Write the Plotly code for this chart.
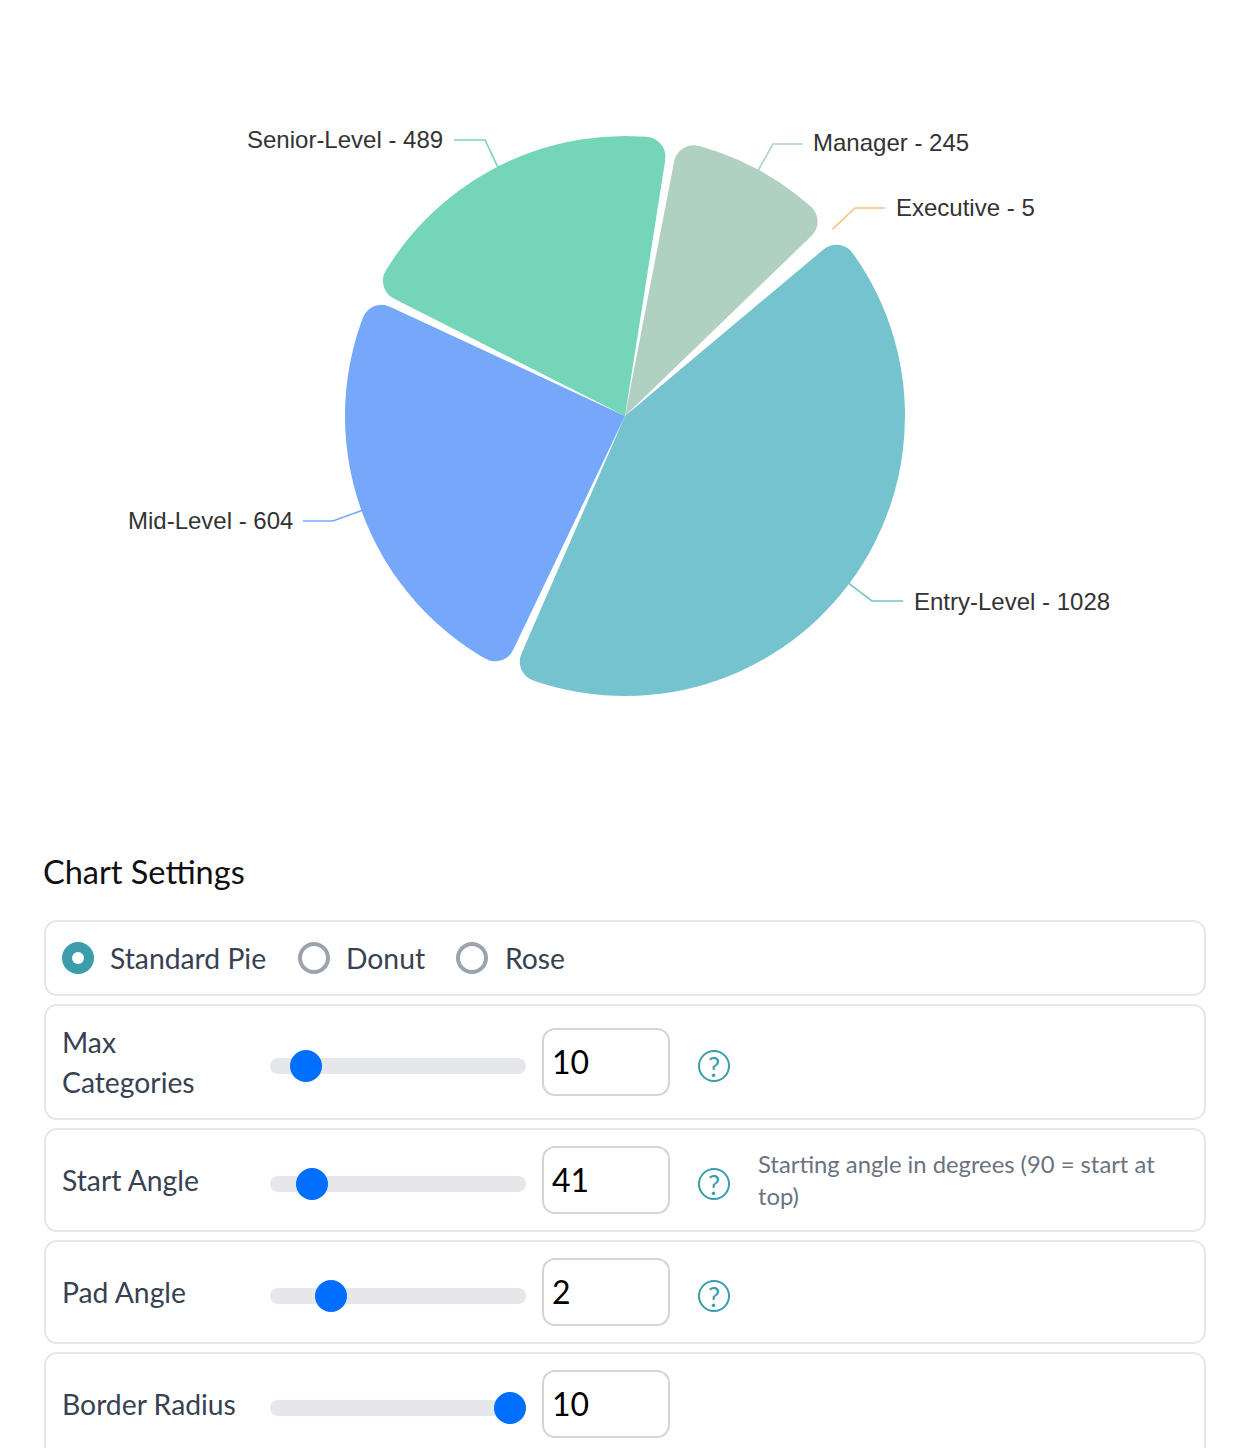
import math
import plotly.graph_objects as go

# ---- data ----
categories = ["Entry-Level", "Mid-Level", "Senior-Level", "Manager", "Executive"]
counts = [1028, 604, 489, 245, 5]
slice_colors = ["#76C3D0", "#75A8F9", "#75D5B9", "#B0D1C1", "rgba(0,0,0,0)"]
line_colors = ["#76C3D0", "#75A8F9", "#75D5B9", "#B0D1C1", "#F8C57E"]
start_angle = 41
pad_angle = 2
border_radius = 10

chart_types = ["Standard Pie", "Donut", "Rose"]
slider_labels = ["Start Angle", "Pad Angle", "Border Radius"]
slider_inputs = ["10", "41", "2", "10"]
help_text = ["Starting angle in degrees (90 = start at", "top)"]

# ---- layout constants (pixels) ----
W, H = 1244, 1448
CX, CY, R = 625, 416, 280
FILLET = border_radius * 2
LBL = "Liberation Sans"
UI = "Lato"
INK = "#374151"
UI_SIZE = 28.3


def px(x):
    return x / W


def py(y):
    return 1 - y / H


def P(x, y):
    return f"{px(x):.5f},{py(y):.5f}"


def rrect(x0, y0, x1, y1, r):
    k = r * 0.45
    return (
        f"M{px(x0 + r):.5f},{py(y0):.5f} L{px(x1 - r):.5f},{py(y0):.5f} "
        f"C{px(x1 - k):.5f},{py(y0):.5f} {px(x1):.5f},{py(y0 + k):.5f} {px(x1):.5f},{py(y0 + r):.5f} "
        f"L{px(x1):.5f},{py(y1 - r):.5f} "
        f"C{px(x1):.5f},{py(y1 - k):.5f} {px(x1 - k):.5f},{py(y1):.5f} {px(x1 - r):.5f},{py(y1):.5f} "
        f"L{px(x0 + r):.5f},{py(y1):.5f} "
        f"C{px(x0 + k):.5f},{py(y1):.5f} {px(x0):.5f},{py(y1 - k):.5f} {px(x0):.5f},{py(y1 - r):.5f} "
        f"L{px(x0):.5f},{py(y0 + r):.5f} "
        f"C{px(x0):.5f},{py(y0 + k):.5f} {px(x0 + k):.5f},{py(y0):.5f} {px(x0 + r):.5f},{py(y0):.5f} Z"
    )


shapes, annos = [], []


def text(x, y, s, size, color=INK, font=UI, anchor="left"):
    annos.append(dict(
        x=px(x), y=py(y), xref="paper", yref="paper", text=s, showarrow=False,
        xanchor=anchor, yanchor="middle", align=anchor,
        font=dict(family=font, size=size, color=color),
    ))


def box(x0, y0, x1, y1, r, line, fill="white", lw=2):
    shapes.append(dict(type="path", xref="paper", yref="paper", path=rrect(x0, y0, x1, y1, r),
                       fillcolor=fill, line=dict(color=line, width=lw), layer="below"))


def circle(x, y, r, fill, line=None, lw=0):
    shapes.append(dict(type="circle", xref="paper", yref="paper",
                       x0=px(x - r), x1=px(x + r), y0=py(y + r), y1=py(y - r),
                       fillcolor=fill, line=dict(color=line or fill, width=lw), layer="above"))


def polar(r, deg):
    a = math.radians(deg)
    return CX + r * math.sin(a), CY - r * math.cos(a)


# ---- pie angles: a slice too small for the pad gets the pad alone; the rest share what is left ----
min_slot = pad_angle
raw_unit = 360 / sum(counts)
small = [v * raw_unit < min_slot for v in counts]
unit = (360 - min_slot * sum(small)) / sum(v for v, s in zip(counts, small) if not s)
pad_value = pad_angle / unit

# slot = [pad/2, slice, pad/2]; each half pad is a transparent slice of the pie trace
values, labels, colors = [], [], []
for c, v, col, s in zip(categories, counts, slice_colors, small):
    values += [pad_value / 2, 0 if s else v - pad_value, pad_value / 2]
    labels += [c + " pad a", c, c + " pad b"]
    colors += ["rgba(0,0,0,0)", col, "rgba(0,0,0,0)"]
rotation = 90 - start_angle

fig = go.Figure(go.Pie(
    values=values, labels=labels, sort=False, direction="clockwise", rotation=rotation,
    textinfo="none", hoverinfo="skip", showlegend=False,
    marker=dict(colors=colors, line=dict(width=0)),
    domain=dict(x=[px(CX - R), px(CX + R)], y=[py(CY + R), py(CY - R)]),
))

# ---- rounded outer corners and leader lines, from the same angles ----
elbows = [(872, 601, 903), (333, 521, 303), (485, 140, 454), (773, 144, 803), (855, 208, 885)]
label_x = [912, 295, 445, 811, 894]
label_y = [601, 520, 139, 142, 207]
label_anchor = ["left", "right", "right", "left", "left"]
ang = rotation
for i, v in enumerate(counts):
    slot = min_slot if small[i] else v * unit
    a0, a1 = ang + pad_angle / 2, ang + slot - pad_angle / 2
    ang += slot
    mid = (a0 + a1) / 2
    ex, ey, tx = elbows[i]
    sx, sy = polar(R - 1, mid)
    shapes.append(dict(type="path", xref="paper", yref="paper",
                       path=f"M{P(sx, sy)} L{P(ex, ey)} L{P(tx, ey)}",
                       line=dict(color=line_colors[i], width=1.6), layer="below"))
    text(label_x[i], label_y[i], f"{categories[i]} - {v}", 24, "#333333", LBL, label_anchor[i])
    if small[i]:
        continue
    beta = math.degrees(math.asin(FILLET / (R - FILLET)))
    d = math.sqrt((R - FILLET) ** 2 - FILLET ** 2)
    for edge, sgn in ((a0, 1), (a1, -1)):
        cen = edge + sgn * beta
        ccx, ccy = polar(R - FILLET, cen)
        pts = []
        for t in range(0, 13):
            th = math.radians(edge - sgn * 90) + sgn * t / 12 * math.radians(90 + beta)
            pts.append((ccx + FILLET * math.sin(th), ccy - FILLET * math.cos(th)))
        pts.append(polar(R + 2, cen))
        for t in range(1, 5):
            pts.append(polar(R + 2, cen - sgn * (beta + 0.4) * t / 4))
        pts.append(polar(d, edge - sgn * 0.3))
        path = "M" + " L".join(P(x, y) for x, y in pts) + " Z"
        shapes.append(dict(type="path", xref="paper", yref="paper", path=path,
                           fillcolor="white", line=dict(width=0), layer="above"))

# ---- settings panel ----
text(41, 871, "Chart Settings", 32.5, "#111111")
for y0, y1 in [(921, 995), (1005, 1119), (1129, 1231), (1241, 1343), (1353, 1480)]:
    box(45, y0, 1205, y1, 12, "#E5E7EB")

radio_x = [78, 314, 472]
radio_tx = [108, 344, 503]
for i, c in enumerate(chart_types):
    if i == 0:
        circle(radio_x[i], 958, 16, "#3B9CAB")
        circle(radio_x[i], 958, 6, "white")
    else:
        circle(radio_x[i], 958, 14, "white", "#9CA3AF", 4)
    text(radio_tx[i], 958, c, UI_SIZE)

text(60, 1042, "Max", UI_SIZE)
text(60, 1082, "Categories", UI_SIZE)
for s, y in zip(slider_labels, [1180, 1292, 1404]):
    text(60, y, s, UI_SIZE)

track_y = [1066, 1184, 1296, 1408]
thumb_x = [306, 312, 331, 510]
input_y = [1029, 1147, 1259, 1371]
for i, y in enumerate(track_y):
    box(270, y - 8, 526, y + 8, 8, "#E5E7EB", "#E5E7EB", 0)
    circle(thumb_x[i], y, 16, "#006FFF")
    box(543, input_y[i], 669, input_y[i] + 66, 12, "#D1D5DB")
    text(550, input_y[i] + 32, slider_inputs[i], 32, "#000000")
    if i < 3:
        circle(714, y, 15, "rgba(0,0,0,0)", "#3B9CAB", 2)
        text(714, y, "?", 27, "#3B9CAB", UI, "center")

text(756, 1164, help_text[0], 23.8, "#6B7280")
text(756, 1196, help_text[1], 23.8, "#6B7280")

fig.update_layout(
    width=W, height=H, margin=dict(l=0, r=0, t=0, b=0, autoexpand=False),
    paper_bgcolor="white", plot_bgcolor="white",
    shapes=shapes, annotations=annos,
)
fig.write_html("out.html", config=dict(displayModeBar=False),
               post_script="document.body.style.margin='0';document.body.style.overflow='hidden';")
